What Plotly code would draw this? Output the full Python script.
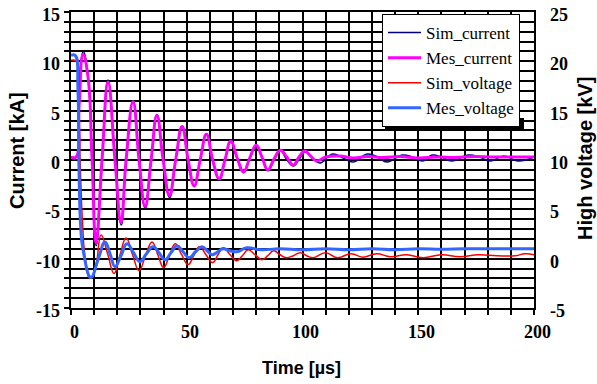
import plotly.graph_objects as go

# ---------------- data ----------------
# Measured current [kA]
t_mes_i = [0, 2.2, 3.5, 5.2, 7.3, 9.1, 10.8, 13.4, 16.0, 19.0, 21.6, 23.8, 26.8, 29.4, 32.0,
           34.6, 37.1, 39.8, 42.5, 45.2, 48.0, 50.6, 53.2, 55.8, 58.5, 61.2, 64.0, 66.5, 69.0,
           71.8, 74.5, 77.2, 80.0, 82.5, 85.0, 87.7, 90.5, 93.2, 96.0, 98.5, 101.0, 103.5, 106.0,
           110, 116, 122, 128, 135, 142, 150, 158, 166, 174, 182, 190, 200]
i_mes = [0.3, 0.3, 5.5, 10.7, 8.5, 0.0, -8.4, 0.0, 7.9, 0.0, -6.3, 0.0, 5.9, 0.0, -4.7,
         0.0, 4.5, 0.0, -3.6, 0.0, 3.4, 0.0, -2.6, 0.0, 2.6, 0.0, -1.9, 0.0, 1.9,
         0.2, -1.2, 0.2, 1.5, 0.3, -1.0, 0.1, 1.0, 0.3, -0.5, 0.3, 0.9, 0.4, -0.1,
         0.3, 0.4, 0.2, 0.35, 0.25, 0.35, 0.2, 0.3, 0.25, 0.35, 0.3, 0.3, 0.3]

# Simulated current [kA]
t_sim_i = [0, 2.2, 3.5, 5.3, 7.3, 9.1, 10.9, 13.4, 16.0, 19.0, 21.7, 23.8, 26.8, 29.4, 32.1,
           34.6, 37.1, 39.8, 42.6, 45.2, 48.0, 50.6, 53.3, 55.8, 58.5, 61.2, 64.1, 66.5, 69.0,
           71.8, 74.6, 77.2, 80.0, 82.5, 85.1, 87.7, 90.4, 93.0, 96.0, 98.6, 101.0, 104.0, 107.5,
           113, 117.5, 122, 128, 132.5, 136.5, 143, 147.5, 152, 156, 160, 164.5, 171.5, 176.5,
           181, 187, 193, 200]
i_sim = [0.3, 0.3, 5.6, 11.0, 8.6, 0.0, -8.7, 0.0, 8.1, 0.0, -6.6, 0.0, 6.0, 0.0, -4.9,
         0.0, 4.6, 0.0, -3.8, 0.0, 3.4, 0.0, -2.7, 0.0, 2.6, 0.0, -2.0, 0.0, 1.9,
         0.1, -1.3, 0.2, 1.4, 0.2, -1.1, 0.0, 1.0, 0.1, -0.6, 0.1, 0.8, 0.3, -0.3,
         0.6, 0.2, -0.2, 0.6, 0.3, -0.2, 0.5, 0.3, -0.1, 0.5, 0.3, -0.1, 0.5, 0.3,
         -0.1, 0.4, -0.1, 0.3]

# Simulated voltage [kV]
t_sim_v = [0, 2.3, 3.3, 4.2, 5.0, 6.2, 8.2, 10.5, 13.0, 15.8, 18.6, 21.2, 23.8, 26.6, 29.4,
           32.2, 35.0, 37.5, 40.0, 42.5, 45.0, 47.8, 50.6, 53.0, 55.5, 58.3, 61.2, 63.5, 65.8,
           68.7, 71.6, 74.0, 76.5, 79.5, 82.5, 85.0, 87.5, 90.3, 93.0, 96.0, 99.0, 101.8, 104.5,
           110, 115, 121, 126, 132, 138, 145, 152, 160, 168, 176, 184, 192, 196, 200]
v_sim = [20.1, 20.0, 15.0, 8.0, 3.5, 0.0, -2.0, -1.0, 2.4, 0.5, -1.5, 0.4, 2.1, 0.4, -1.2,
         0.3, 1.7, 0.4, -0.9, 0.3, 1.5, 0.4, -0.6, 0.3, 1.2, 0.4, -0.4, 0.4, 1.1,
         0.4, -0.2, 0.3, 0.9, 0.4, -0.1, 0.3, 0.8, 0.4, 0.1, 0.3, 0.6, 0.3, 0.1,
         0.6, 0.1, 0.5, 0.15, 0.5, 0.2, 0.4, 0.1, 0.4, 0.2, 0.4, 0.3, 0.3, 0.5, 0.4]

# Measured voltage [kV]
t_mes_v = [0, 1.8, 3.0, 3.4, 4.2, 5.2, 8.6, 11.8, 14.7, 17.0, 19.0, 21.6, 24.2, 27.0, 29.8,
           32.6, 35.4, 38.0, 40.6, 43.2, 45.8, 48.4, 51.0, 53.8, 56.6, 58.8, 61.0, 63.4, 65.7,
           68.6, 71.6, 76.0, 82, 90, 100, 110, 120, 130, 140, 150, 160, 170, 180, 190, 200]
v_mes = [20.6, 20.6, 17.1, 10.0, 3.2, 0.9, -1.9, 0.0, 1.7, 0.4, -0.8, 0.3, 1.5, 0.6, -0.3,
         0.5, 1.2, 0.6, -0.1, 0.6, 1.3, 0.7, 0.1, 0.7, 1.2, 0.8, 0.4, 0.7, 1.0,
         0.8, 0.7, 1.1, 0.9, 1.0, 0.9, 1.0, 0.9, 1.0, 0.9, 1.0, 0.95, 1.0, 1.0, 1.0, 1.0]

# axis ticks: grid every 10 us / every 1 kA, labels every 50 us / 5 kA / 5 kV
x_grid = list(range(0, 201, 10))
x_label_vals = [0, 50, 100, 150, 200]
y1_grid = list(range(-15, 16))
y1_label_vals = [-15, -10, -5, 0, 5, 10, 15]
y2_label_vals = [-5, 0, 5, 10, 15, 20, 25]

x_title = "Time [µs]"
y1_title = "Current [kA]"
y2_title = "High voltage [kV]"

# ---------------- figure ----------------
SM = 1.3
fig = go.Figure()
fig.add_trace(go.Scatter(x=t_sim_i, y=i_sim, name="Sim_current", mode="lines",
                         line=dict(color="#000080", width=1.5, shape="spline", smoothing=SM),
                         legendgroup="a"))
fig.add_trace(go.Scatter(x=t_mes_i, y=i_mes, name="Mes_current", mode="lines",
                         line=dict(color="#ff00ff", width=3, shape="spline", smoothing=SM),
                         legendgroup="b"))
fig.add_trace(go.Scatter(x=t_sim_v, y=v_sim, name="Sim_voltage", mode="lines", yaxis="y2",
                         line=dict(color="#ff0000", width=1.5, shape="spline", smoothing=SM),
                         legendgroup="c"))
fig.add_trace(go.Scatter(x=t_mes_v, y=v_mes, name="Mes_voltage", mode="lines", yaxis="y2",
                         line=dict(color="#3366ff", width=3, shape="spline", smoothing=SM),
                         legendgroup="d"))

SERIF = "Times New Roman, Liberation Serif, serif"
SANS = "Arial, Liberation Sans, sans-serif"
tickfont = dict(family=SERIF, size=18, color="#000000", weight=700)

# plot area in pixels: x 71..534, y 12..308
def px_x(p):
    return (p - 71) / 463.0

def px_y(p):
    return 1 - (p - 12) / 296.0

ann = []
for v in y1_label_vals:
    ann.append(dict(text=str(v), xref="paper", x=0, xanchor="right", xshift=-9,
                    yref="y", y=v, yanchor="middle", yshift=-3,
                    showarrow=False, font=tickfont))
for v in y2_label_vals:
    ann.append(dict(text=str(v), xref="paper", x=1, xanchor="left", xshift=14,
                    yref="y2", y=v, yanchor="middle", yshift=-3,
                    showarrow=False, font=tickfont))
for v in x_label_vals:
    ann.append(dict(text=str(v), xref="x", x=v, xanchor="center", xshift=3,
                    yref="paper", y=0, yanchor="top", yshift=-12,
                    showarrow=False, font=tickfont))
ann.append(dict(text=x_title, xref="paper", x=px_x(301), xanchor="center",
                yref="paper", y=px_y(368), yanchor="middle", showarrow=False,
                font=dict(family=SANS, size=18, color="black", weight=700)))
ann.append(dict(text=y1_title, xref="paper", x=px_x(17), xanchor="center",
                yref="paper", y=px_y(151), yanchor="middle", textangle=-90, showarrow=False,
                font=dict(family=SANS, size=20, color="black", weight=700)))
ann.append(dict(text=y2_title, xref="paper", x=px_x(585), xanchor="center",
                yref="paper", y=px_y(159), yanchor="middle", textangle=-90, showarrow=False,
                font=dict(family=SANS, size=20, color="black", weight=700)))

fig.update_layout(
    width=597, height=384,
    font=dict(family=SERIF, size=17, color="black"),
    margin=dict(l=71, r=63, t=12, b=76, autoexpand=False),
    paper_bgcolor="white", plot_bgcolor="white",
    showlegend=True,
    legend=dict(x=px_x(382), y=px_y(14), xanchor="left", yanchor="top",
                bgcolor="white", bordercolor="black", borderwidth=1,
                font=dict(family=SERIF, size=17, color="black"),
                tracegroupgap=0, itemwidth=33),
    shapes=[dict(type="rect", xref="paper", yref="paper", layer="above",
                 x0=px_x(385), x1=px_x(524), y0=px_y(129), y1=px_y(118),
                 fillcolor="black", line=dict(width=0))],
    annotations=ann,
    xaxis=dict(range=[0, 200], tickmode="array", tickvals=x_grid, showticklabels=False,
               ticks="outside", ticklen=5, tickcolor="black", tickwidth=1.5,
               showgrid=True, gridcolor="black", gridwidth=1.5,
               showline=True, linecolor="black", linewidth=2, mirror=True,
               zeroline=False),
    yaxis=dict(range=[-15, 15], tickmode="array", tickvals=y1_grid, showticklabels=False,
               ticks="outside", ticklen=5, tickcolor="black", tickwidth=1.5,
               showgrid=True, gridcolor="black", gridwidth=1.5,
               showline=True, linecolor="black", linewidth=2, mirror=True,
               zeroline=False),
    yaxis2=dict(range=[-5, 25], tickmode="array", tickvals=y2_label_vals,
                showticklabels=False, overlaying="y", side="right",
                showgrid=False, zeroline=False, ticks=""),
)

fig.write_html("out.html", config={"displayModeBar": False},
               post_script="document.body.style.margin='0';")
